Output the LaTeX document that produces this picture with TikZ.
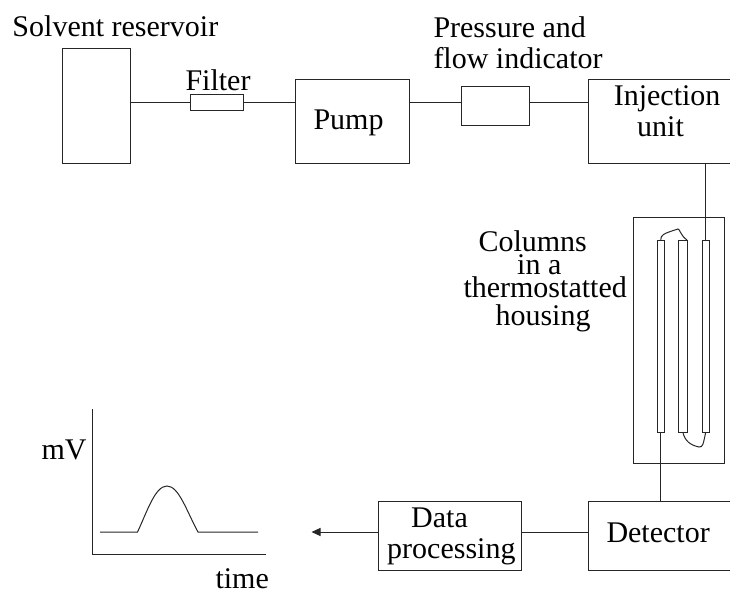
\documentclass[tikz,border=0pt]{standalone}
\usepackage{fontspec}
\setmainfont{Liberation Serif}
\usetikzlibrary{arrows.meta}
\tikzstyle{every picture}=[x=1pt, y=-1pt, >={Triangle[length=9pt,width=8pt]}, line width=1pt, color=black!85]
\tikzstyle{box}=[draw, inner sep=0pt, outer sep=0pt]
\tikzstyle{txt}=[inner sep=0pt, text=black, font=\fontsize{30}{31}\selectfont]

\begin{document}
\begin{tikzpicture}
	\useasboundingbox (0,0) rectangle (730,592);
	% top row
	\node (R) [box, minimum width=67.5pt, minimum height=115pt] at (96.25,105.5) {};
	\node (F) [box, minimum width=53pt, minimum height=16pt] at (216.5,102) {};
	\node (P) [box, minimum width=114pt, minimum height=84pt] at (352,121) {};
	\node (I) [box, minimum width=68pt, minimum height=39pt] at (495,105.5) {};
	\node (U) [box, minimum width=146pt, minimum height=84pt] at (661,121) {};
	\draw (F -| R.east) edge (F) (F) edge (F -| P.west);
	\draw (F -| P.east) edge (F -| I.west) (F -| I.east) edge (F -| U.west);
	% columns
	\node (H) [box, minimum width=91pt, minimum height=246pt] at (678.5,340) {};
	\node (C1) [box, minimum width=7.5pt, minimum height=192pt] at (660.75,336) {};
	\node (C2) [box, minimum width=8.5pt, minimum height=192pt] at (682.75,336) {};
	\node (C3) [box, minimum width=7.5pt, minimum height=192pt] at (705.75,336) {};
	\draw (U.south -| C3) -- (C3.north);
	\draw (C1.north) .. controls (661,235) and (662,234) .. (678,229) .. controls (680,229) and (680,235) .. (C2.north east);
	\draw (C2.south) .. controls (685,441) and (690,445) .. (699,447) .. controls (703,447) and (703,445) .. (C3.south);
	% bottom row
	\node (D) [box, minimum width=146pt, minimum height=69pt] at (661.3,535.8) {};
	\node (G) [box, minimum width=143.3pt, minimum height=69pt] at (449.7,535.8) {};
	\coordinate (E) at (311.5,532);
	\draw (C1.south) -- (D.north -| C1);
	\draw (E -| G.east) -- (E -| D.west);
	\draw[->] (E -| G.west) -- (E);
	% chromatogram
	\coordinate (O) at (92.5,554.5);
	\coordinate (T) at (92.5,409);
	\coordinate (X) at (265.5,554.5);
	\draw (T) -- (O) -- (X);
	\draw (100,532) -- (137.5,532) .. controls (147,512) and (155,486) .. (167,486) .. controls (179,486) and (187,512) .. (198,532) -- (258,532);
	% labels
	\node (a) [txt, anchor=base west] at (12,36) {Solvent reservoir};
	\node (b) [txt, anchor=base west] at (185,90) {Filter};
	\node (c) [txt, anchor=base west] at (313,129) {Pump};
	\node (d) [txt, anchor=north west, align=left] at (433,16) {Pressure and\\flow indicator};
	\node (e) [txt, anchor=north west, align=left] at (613.3,85) {Injection\\\hspace*{23.4pt}unit};
	\node (f) [txt, anchor=north west, align=left] at (463,230.5) {\hspace*{15pt}Columns\\[-8pt]\hspace*{53.7pt}in a\\[-8pt]thermostatted\\[-3pt]\hspace*{32pt}housing};
	\node (g) [txt, anchor=base west] at (606,542.3) {Detector};
	\node (h) [txt, anchor=north west, align=left] at (386.7,507.7) {\hspace*{24pt}Data\\processing};
	\node (i) [txt, anchor=base west] at (41,459) {mV};
	\node (j) [txt, anchor=base west] at (215,588) {time};
\end{tikzpicture}
\end{document}
